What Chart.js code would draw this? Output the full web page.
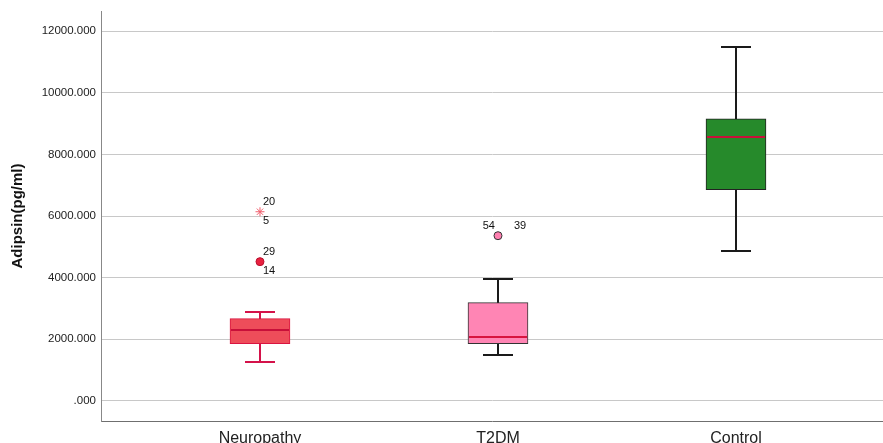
<!DOCTYPE html>
<html>
<head>
<meta charset="utf-8">
<script src="https://cdn.jsdelivr.net/npm/chart.js@4/dist/chart.umd.min.js"></script>
<style>
  html, body { margin: 0; padding: 0; background: #ffffff; }
  #wrap { width: 883px; height: 443px; }
</style>
</head>
<body>
<div id="wrap"><canvas id="chart" width="883" height="443"></canvas></div>
<script>
// Adipsin (pg/ml) by group: five-number summaries and flagged cases
const groups       = ['Neuropathy', 'T2DM', 'Control'];
const whiskerLow   = [1263, 1506, 4875];
const q1           = [1862, 1862, 6851];
const median       = [2316, 2089, 8567];
const q3           = [2672, 3190, 9150];
const whiskerHigh  = [2899, 3968, 11482];

// Cases outside the whiskers (group index, value, marker, case numbers)
const outlierGroup = [0, 0, 1];
const outlierValue = [6138, 4519, 5361];
const outlierKind  = ['star', 'circle', 'circle'];
const outlierCases = [['20', '5'], ['29', '14'], ['54', '39']];

const yTicks = [0, 2000, 4000, 6000, 8000, 10000, 12000];

// Styling per group
const boxFill    = ['#EE4D5A', '#FF85B4', '#268A2B'];
const boxBorder  = ['#D91440', '#333333', '#222222'];
const whiskColor = ['#D4124A', '#1a1a1a', '#1a1a1a'];
const medColor   = ['#C8103A', '#D8143F', '#C8103A'];

const boxes = groups.map((g, i) => ({ x: i, y: [q1[i], q3[i]] }));

const outlierSets = outlierValue.map((v, k) => {
  const gi = outlierGroup[k];
  const star = outlierKind[k] === 'star';
  return {
    type: 'scatter',
    data: [{ x: gi, y: v }],
    pointStyle: outlierKind[k],
    pointRadius: star ? 4.5 : 4,
    pointBorderWidth: 1,
    pointBackgroundColor: star ? 'rgba(0,0,0,0)' : (gi === 0 ? '#E8213F' : '#FF7FB0'),
    pointBorderColor: star ? '#F0606E' : (gi === 0 ? '#B8102E' : '#333333'),
    order: 0
  };
});

const boxPlotPlugin = {
  id: 'boxplot',
  beforeDatasetsDraw(chart) {
    const { ctx, scales: { x, y } } = chart;
    ctx.save();
    groups.forEach((g, i) => {
      const cx = Math.round(x.getPixelForValue(i));
      const lo = Math.round(y.getPixelForValue(whiskerLow[i]));
      const hi = Math.round(y.getPixelForValue(whiskerHigh[i]));
      ctx.strokeStyle = whiskColor[i];
      ctx.lineWidth = 2;
      ctx.beginPath();
      ctx.moveTo(cx, hi); ctx.lineTo(cx, lo);
      ctx.moveTo(cx - 15, hi); ctx.lineTo(cx + 15, hi);
      ctx.moveTo(cx - 15, lo); ctx.lineTo(cx + 15, lo);
      ctx.stroke();
    });
    ctx.restore();
  },
  afterDatasetsDraw(chart) {
    const { ctx, scales: { x, y } } = chart;
    ctx.save();
    groups.forEach((g, i) => {
      const cx = Math.round(x.getPixelForValue(i));
      const my = Math.round(y.getPixelForValue(median[i]));
      ctx.strokeStyle = medColor[i];
      ctx.lineWidth = 2;
      ctx.beginPath();
      ctx.moveTo(cx - 29, my); ctx.lineTo(cx + 29, my);
      ctx.stroke();
    });
    ctx.fillStyle = '#111111';
    ctx.font = '11px "Liberation Sans", Arial, sans-serif';
    ctx.textBaseline = 'middle';
    outlierValue.forEach((v, k) => {
      const px = x.getPixelForValue(outlierGroup[k]);
      const py = y.getPixelForValue(v);
      const [a, b] = outlierCases[k];
      if (outlierGroup[k] === 1) {
        ctx.textAlign = 'right';
        ctx.fillText(a, px - 3, py - 10);
        ctx.textAlign = 'left';
        ctx.fillText(b, px + 16, py - 10);
      } else {
        ctx.textAlign = 'left';
        ctx.fillText(a, px + 3, py - 10);
        ctx.fillText(b, px + 3, py + 9);
      }
    });
    ctx.restore();
  }
};

new Chart(document.getElementById('chart'), {
  type: 'bar',
  data: {
    datasets: [
      {
        type: 'bar',
        data: boxes,
        backgroundColor: boxFill,
        borderColor: boxBorder,
        borderWidth: 1,
        borderSkipped: false,
        barThickness: 60,
        order: 1
      },
      ...outlierSets
    ]
  },
  options: {
    responsive: false,
    animation: false,
    devicePixelRatio: 1,
    layout: { autoPadding: false, padding: { top: 11, left: 0, right: 0, bottom: 0 } },
    plugins: { legend: { display: false }, tooltip: { enabled: false } },
    scales: {
      x: {
        type: 'linear',
        min: -0.668,
        max: 2.6177,
        offset: false,
        grid: { display: false, drawTicks: false },
        border: { display: true, color: '#6f6f6f', width: 1 },
        afterBuildTicks(scale) { scale.ticks = groups.map((g, i) => ({ value: i })); },
        afterFit(scale) {
          scale.height = 22;
          scale.paddingLeft = 0;
          scale.paddingRight = 0;
        },
        ticks: {
          autoSkip: false,
          maxRotation: 0,
          padding: 8,
          color: '#222222',
          font: { family: '"Liberation Sans", Arial, sans-serif', size: 16 },
          callback: (v) => groups[v]
        }
      },
      y: {
        min: -650,
        max: 12650,
        grid: { color: '#c8c8c8', lineWidth: 1, drawTicks: false },
        border: { display: true, color: '#888888', width: 1 },
        afterBuildTicks(scale) { scale.ticks = yTicks.map(v => ({ value: v })); },
        afterFit(scale) {
          scale.width = 101;
          scale.paddingTop = 0;
          scale.paddingBottom = 0;
        },
        ticks: {
          padding: 5,
          color: '#222222',
          font: { family: '"Liberation Sans", Arial, sans-serif', size: 11.5 },
          callback: (v) => (v === 0 ? '.000' : v.toFixed(3))
        },
        title: {
          display: true,
          text: 'Adipsin(pg/ml)',
          color: '#111111',
          padding: { top: 9, bottom: 0 },
          font: { family: '"Liberation Sans", Arial, sans-serif', size: 15, weight: 'bold' }
        }
      }
    }
  },
  plugins: [boxPlotPlugin]
});
</script>
</body>
</html>
